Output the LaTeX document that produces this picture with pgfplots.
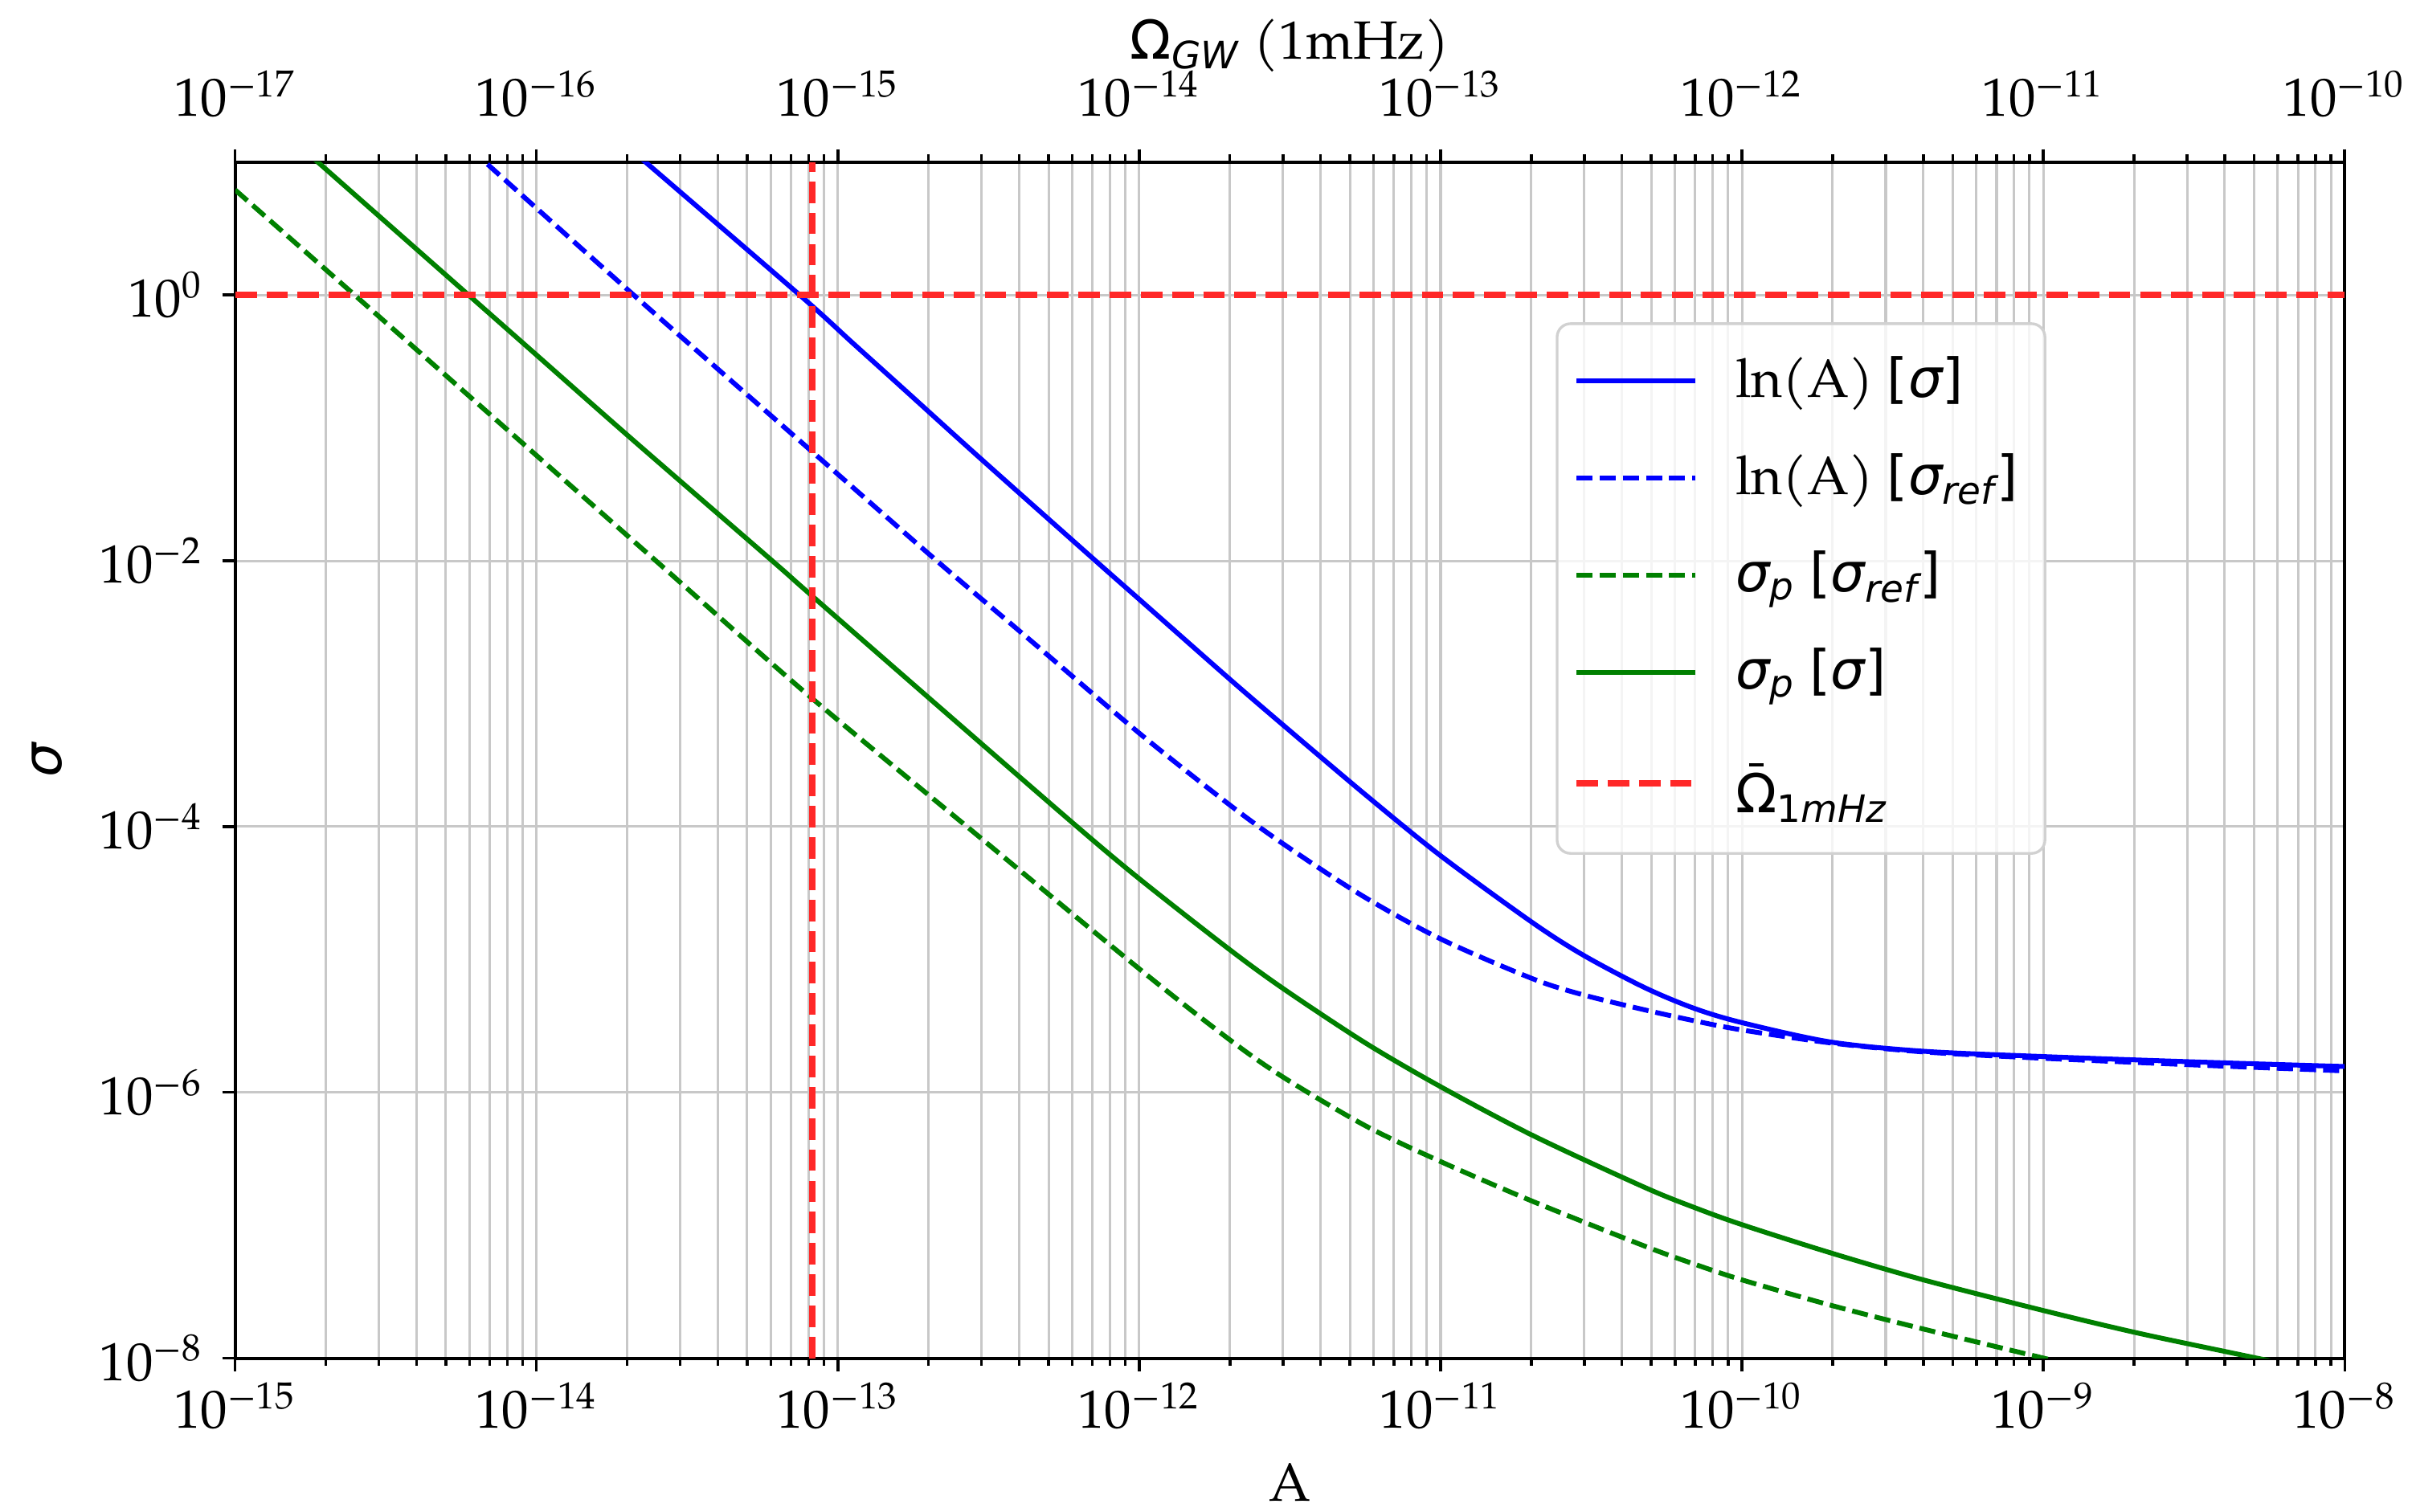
\documentclass[border=0pt]{standalone}
\usepackage{fontspec}
\setmainfont{TeX Gyre Pagella}
\newfontfamily\dv{DejaVu Sans}
\usepackage{pgfplots}
\pgfplotsset{compat=1.18}

\definecolor{cblue}{RGB}{0,0,255}
\definecolor{cgreen}{RGB}{0,128,0}
\definecolor{cred}{RGB}{255,40,40}
\definecolor{cgrid}{RGB}{200,200,200}

% tick label 10^n set in the text font
\newcommand{\tl}[1]{10\textsuperscript{#1}}
% symbols of the legend and labels
\newcommand{\msig}{{\dv\itshape σ}}
\newcommand{\msigref}{{\dv\itshape σ\textsubscript{ref}}}
\newcommand{\msigp}{{\dv\itshape σ\textsubscript{p}}}
\newcommand{\lb}{{\dv[}}
\newcommand{\rb}{{\dv]}}
% Omega with a short bar above
\newcommand{\Obar}{{\dv\ooalign{Ω\cr\hidewidth\rule[0.86em]{0.27em}{0.065em}\hidewidth\cr}}}

\pgfplotsset{
  common/.style={
    scale only axis, width=391.8pt, height=222.2pt,
    at={(0,0)}, anchor=south west,
    tick align=outside,
    major tick length=2.4pt, minor tick length=1.4pt,
    every tick/.style={black, line width=0.5pt},
    axis line style={black, line width=0.6pt},
  },
  solidline/.style={line width=0.9pt, smooth, tension=0.5},
  dashline/.style={line width=0.9pt, dash pattern=on 3pt off 1.3pt, smooth, tension=0.5},
  redline/.style={cred, line width=1.2pt, dash pattern=on 4pt off 1.8pt},
}

\begin{document}
\begin{tikzpicture}
\useasboundingbox (-43.7pt,-28.5pt) rectangle (404.3pt,252.3pt);

% top axis: Omega_GW at 1 mHz
\begin{axis}[
  xmode=log,
  common,
  xmin=1e-17, xmax=1e-10, ymin=0, ymax=1,
  axis x line*=top, axis y line=none,
  xtick={1e-17,1e-16,1e-15,1e-14,1e-13,1e-12,1e-11,1e-10},
  xticklabels={\tl{−17},\tl{−16},\tl{−15},\tl{−14},\tl{−13},\tl{−12},\tl{−11},\tl{−10}},
  xticklabel style={yshift=2.4pt},
  minor xtick={2e-17,3e-17,4e-17,5e-17,6e-17,7e-17,8e-17,9e-17,
               2e-16,3e-16,4e-16,5e-16,6e-16,7e-16,8e-16,9e-16,
               2e-15,3e-15,4e-15,5e-15,6e-15,7e-15,8e-15,9e-15,
               2e-14,3e-14,4e-14,5e-14,6e-14,7e-14,8e-14,9e-14,
               2e-13,3e-13,4e-13,5e-13,6e-13,7e-13,8e-13,9e-13,
               2e-12,3e-12,4e-12,5e-12,6e-12,7e-12,8e-12,9e-12,
               2e-11,3e-11,4e-11,5e-11,6e-11,7e-11,8e-11,9e-11},
  xlabel={{\dv Ω}\textsubscript{\dv\itshape GW} (1mHz)},
  xlabel style={at={(axis description cs:0.5,1)}, anchor=center, yshift=21.6pt},
]
\end{axis}

\begin{axis}[
  xmode=log, ymode=log,
  common,
  xmin=1e-15, xmax=1e-8, ymin=1e-8, ymax=10,
  xtick pos=lower, ytick pos=left,
  xtick={1e-15,1e-14,1e-13,1e-12,1e-11,1e-10,1e-9,1e-8},
  xticklabels={\tl{−15},\tl{−14},\tl{−13},\tl{−12},\tl{−11},\tl{−10},\tl{−9},\tl{−8}},
  xticklabel style={yshift=1.4pt},
  minor xtick={2e-15,3e-15,4e-15,5e-15,6e-15,7e-15,8e-15,9e-15,
               2e-14,3e-14,4e-14,5e-14,6e-14,7e-14,8e-14,9e-14,
               2e-13,3e-13,4e-13,5e-13,6e-13,7e-13,8e-13,9e-13,
               2e-12,3e-12,4e-12,5e-12,6e-12,7e-12,8e-12,9e-12,
               2e-11,3e-11,4e-11,5e-11,6e-11,7e-11,8e-11,9e-11,
               2e-10,3e-10,4e-10,5e-10,6e-10,7e-10,8e-10,9e-10,
               2e-9,3e-9,4e-9,5e-9,6e-9,7e-9,8e-9,9e-9},
  ytick={1e-8,1e-6,1e-4,1e-2,1},
  yticklabels={\tl{−8},\tl{−6},\tl{−4},\tl{−2},\tl{0}},
  xmajorgrids, xminorgrids, ymajorgrids,
  major grid style={cgrid, line width=0.45pt},
  minor grid style={cgrid, line width=0.45pt},
  xlabel={A},
  xlabel style={at={(axis description cs:0.5,0)}, anchor=center, yshift=-23pt},
  ylabel={\msig},
  legend cell align=left,
  legend style={
    at={(0.626,0.866)}, anchor=north west,
    draw=black!18, line width=0.5pt, rounded corners=2.5pt,
    fill=white, fill opacity=0.8, text opacity=1,
    inner xsep=3pt, inner ysep=4pt,
    row sep=5pt,
  },
  /tikz/every odd column/.append style={column sep=5pt},
  legend image code/.code={\draw[#1] (0pt,0pt) -- (22pt,0pt);},
]

% ln(A), sigma
\addplot[cblue, solidline] coordinates {
  (1.995e-14,13.18) (7.464e-14,1.0) (1.114e-13,0.4395) (1.637e-13,0.2)
  (2.965e-13,5.916e-2) (7.161e-13,1.0e-2) (1e-12,5.129e-3) (1.986e-12,1.300e-3)
  (3.027e-12,5.715e-4) (5.623e-12,1.742e-4) (1e-11,6.039e-5) (2.023e-11,1.888e-5)
  (2.985e-11,1.074e-5) (4.742e-11,6.166e-6) (6.918e-11,4.305e-6) (1e-10,3.350e-6)
  (1.963e-10,2.399e-6) (3.999e-10,2.042e-6) (1e-9,1.862e-6) (3.162e-9,1.698e-6)
  (1e-8,1.567e-6)
};
\addlegendentry{ln(A) \lb\msig\rb}

% ln(A), sigma_ref
\addplot[cblue, dashline] coordinates {
  (6.026e-15,12.59) (2.099e-14,1.0) (8.128e-14,6.761e-2) (2.128e-13,1.0e-2)
  (4.467e-13,2.399e-3) (1e-12,5.047e-4) (1.986e-12,1.469e-4) (3.027e-12,7.328e-5)
  (5.495e-12,3.020e-5) (1e-11,1.429e-5) (2.023e-11,7.161e-6) (2.985e-11,5.408e-6)
  (4.742e-11,4.188e-6) (6.918e-11,3.467e-6) (1e-10,2.951e-6) (1.963e-10,2.360e-6)
  (3.999e-10,2.018e-6) (1e-9,1.807e-6) (3.162e-9,1.611e-6) (1e-8,1.452e-6)
};
\addlegendentry{ln(A) \lb\msigref\rb}

% sigma_p, sigma_ref
\addplot[cgreen, dashline] coordinates {
  (1e-15,6.166) (2.489e-15,1.0) (1e-14,6.194e-2) (2.630e-14,8.954e-3)
  (7.816e-14,1.014e-3) (2.673e-13,1.005e-4) (1e-12,8.511e-6) (1.986e-12,2.512e-6)
  (3.027e-12,1.288e-6) (5.623e-12,5.623e-7) (1e-11,3.020e-7) (2.023e-11,1.514e-7)
  (4.742e-11,6.998e-8) (6.918e-11,5.129e-8) (1e-10,3.890e-8) (1.963e-10,2.512e-8)
  (3.999e-10,1.660e-8) (1.096e-9,9.55e-9)
};
\addlegendentry{\msigp\ \lb\msigref\rb}

% sigma_p, sigma
\addplot[cgreen, solidline] coordinates {
  (1.698e-15,12.25) (5.943e-15,1.0) (1e-14,0.3532) (2.042e-14,8.472e-2)
  (6.124e-14,9.772e-3) (7.816e-14,5.998e-3) (1.986e-13,9.462e-4) (6.012e-13,1.067e-4)
  (1e-12,4.055e-5) (1.986e-12,1.197e-5) (3.027e-12,5.970e-6) (5.623e-12,2.360e-6)
  (1e-11,1.104e-6) (2.023e-11,4.742e-7) (4.742e-11,1.936e-7) (6.918e-11,1.368e-7)
  (1e-10,1.012e-7) (1.963e-10,6.223e-8) (3.999e-10,3.890e-8) (1.026e-9,2.254e-8)
  (2.056e-9,1.549e-8) (4.169e-9,1.104e-8) (6.310e-9,9.078e-9)
};
\addlegendentry{\msigp\ \lb\msig\rb}

% reference level and reference amplitude
\addplot[redline] coordinates {
  (1e-15,1) (1e-8,1)
};
\addlegendentry{\rule[-4.5pt]{0pt}{17pt}\Obar\textsubscript{\dv 1\itshape mHz}}
\addplot[redline, forget plot] coordinates {
  (8.2e-14,1e-8) (8.2e-14,10)
};
\end{axis}
\end{tikzpicture}
\end{document}
